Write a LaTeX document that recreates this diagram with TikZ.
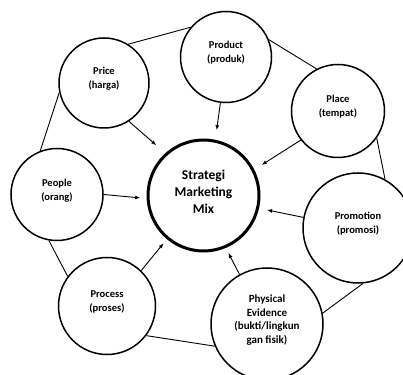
\documentclass[tikz,border=0pt]{standalone}
\usepackage{fontspec}
\setmainfont{Carlito}
\usetikzlibrary{arrows.meta}
\tikzset{
  pcircle/.style={circle, draw, line width=1.5pt, inner sep=0pt},
  maincircle/.style={circle, draw, line width=3pt, inner sep=0pt, minimum size=111pt},
  ctext/.style={align=center, font=\bfseries\fontsize{10.5}{14}\selectfont, inner sep=0pt},
  maintext/.style={align=center, font=\bfseries\fontsize{13.5}{17}\selectfont, inner sep=0pt},
  ringline/.style={line width=0.9pt},
  toarrow/.style={line width=0.9pt, -{Latex[length=5pt,width=4pt]}}
}
\begin{document}
\begin{tikzpicture}[x=1pt,y=1pt]
\useasboundingbox (0,0) rectangle (403,374);
% circles
\node[maincircle] (center) at (203.5,178.5) {};
\node[pcircle, minimum size=90pt] (price) at (104,291) {};
\node[pcircle, minimum size=91pt] (product) at (226,317) {};
\node[pcircle, minimum size=93pt] (place) at (338,263) {};
\node[pcircle, minimum size=110pt] (promotion) at (358,146) {};
\node[pcircle, minimum size=112pt] (physical) at (267,50) {};
\node[pcircle, minimum size=97pt] (process) at (107,68) {};
\node[pcircle, minimum size=92pt] (people) at (57,179.5) {};
% texts
\node[maintext] (centerT) at ([yshift=4]center) {Strategi\\Marketing\\Mix};
\node[ctext] (priceT) at ([yshift=4]price) {Price\\(harga)};
\node[ctext] (productT) at ([yshift=4]product) {Product\\(produk)};
\node[ctext] (placeT) at ([yshift=4]place) {Place\\(tempat)};
\node[ctext] (promotionT) at ([yshift=4]promotion) {Promotion\\(promosi)};
\node[ctext, font=\bfseries\fontsize{11}{13.8}\selectfont] (physicalT) at ([yshift=4]physical) {Physical\\Evidence\\(bukti/lingkun\\gan fisik)};
\node[ctext] (processT) at ([yshift=4]process) {Process\\(proses)};
\node[ctext] (peopleT) at ([yshift=4]people) {People\\(orang)};
% ring
\draw[ringline] (price.58) -- (product.140);
\draw[ringline] (product.22.7) -- (place.117);
\draw[ringline] (place.-35.4) -- (promotion.61.5);
\draw[ringline] (promotion.-85) -- (physical.11);
\draw[ringline] (physical.203.6) -- (process.-37.8);
\draw[ringline] (process.143) -- (people.-100.5);
\draw[ringline] (people.111) -- (price.192.8);
% arrows
\draw[toarrow, shorten >=12pt] (price.-57) -- (center.132);
\draw[toarrow, shorten >=9.7pt] (product.-97.6) -- (center.78);
\draw[toarrow, shorten >=8.8pt] (place.218.7) -- (center.27.5);
\draw[toarrow, shorten >=6.4pt] (people.0) -- (center.183);
\draw[toarrow, shorten >=5.3pt] (process.46.6) -- (center.230.8);
\draw[toarrow, shorten >=5.7pt] (physical.119) -- (center.293.9);
\draw[toarrow, shorten >=8.2pt] (promotion.169.5) -- (center.-13.7);
\end{tikzpicture}
\end{document}
